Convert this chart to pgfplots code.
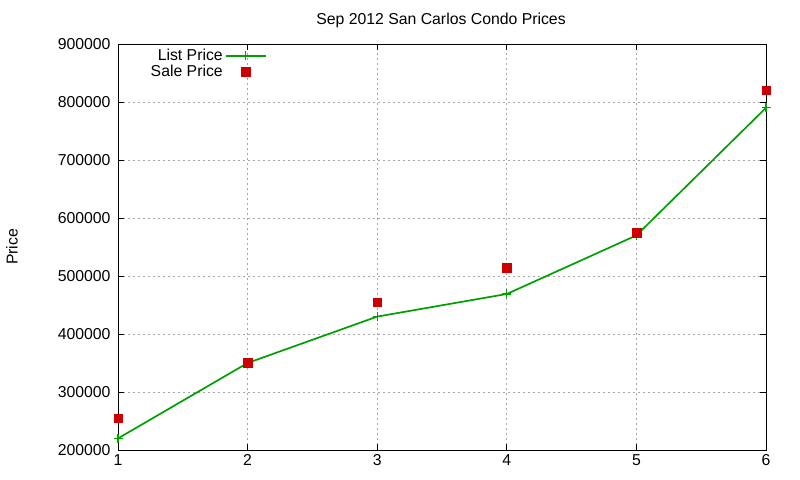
\documentclass[border=0pt]{standalone}
\usepackage{fontspec}
\setmainfont{Liberation Sans}
\usepackage{pgfplots}
\pgfplotsset{compat=1.18}
\definecolor{gpgreen}{RGB}{0,160,0}
\definecolor{gpred}{RGB}{204,0,0}
\begin{document}
\begin{tikzpicture}[x=1bp,y=1bp]
\useasboundingbox (0,0) rectangle (800,480);
\begin{axis}[
    at={(118bp,30bp)}, anchor=south west,
    scale only axis, width=648bp, height=406bp,
    xmin=1, xmax=6, ymin=200000, ymax=900000,
    xtick={1,2,3,4,5,6},
    ytick={200000,300000,400000,500000,600000,700000,800000,900000},
    scaled y ticks=false,
    /pgf/number format/assume math mode=true,
    yticklabel style={/pgf/number format/fixed,/pgf/number format/1000 sep={}, xshift=-4bp},
    xticklabel style={yshift=-1bp},
    ticklabel style={font=\fontsize{15.8bp}{17bp}\selectfont},
    tick style={black, line width=0.8bp},
    major tick length=6bp,
    axis line style={line width=0.8bp},
    grid=major,
    major grid style={gray!70, dash pattern=on 2bp off 3bp, line width=0.8bp},
    legend style={draw=none, fill=none, at={(axis cs:2.17,898000)}, anchor=north east,
        font=\fontsize{15.8bp}{17bp}\selectfont, row sep=-1bp},
    legend cell align=right,
    legend plot pos=right,
    legend image code/.code={\draw[mark repeat=2,mark phase=2,#1] plot coordinates {(0bp,0bp) (20bp,0bp) (40bp,0bp)};},
]
\addplot[gpgreen, line width=1.7bp, mark=+, mark size=4.5bp, mark options={line width=1.3bp}]
    coordinates {(1,220000) (2,350000) (3,430000) (4,469000) (5,570000) (6,790000)};
\addlegendentry{List Price}
\addplot[gpred, only marks, mark=square*, mark size=4.3bp]
    coordinates {(1,255000) (2,351000) (3,455000) (4,514000) (5,575000) (6,820000)};
\addlegendentry{Sale Price}
\end{axis}
\node[font=\fontsize{15.8bp}{17bp}\selectfont] at (441,460) {Sep 2012 San Carlos Condo Prices};
\node[font=\fontsize{15.8bp}{17bp}\selectfont, rotate=90] at (12,233) {Price};
\end{tikzpicture}
\end{document}
